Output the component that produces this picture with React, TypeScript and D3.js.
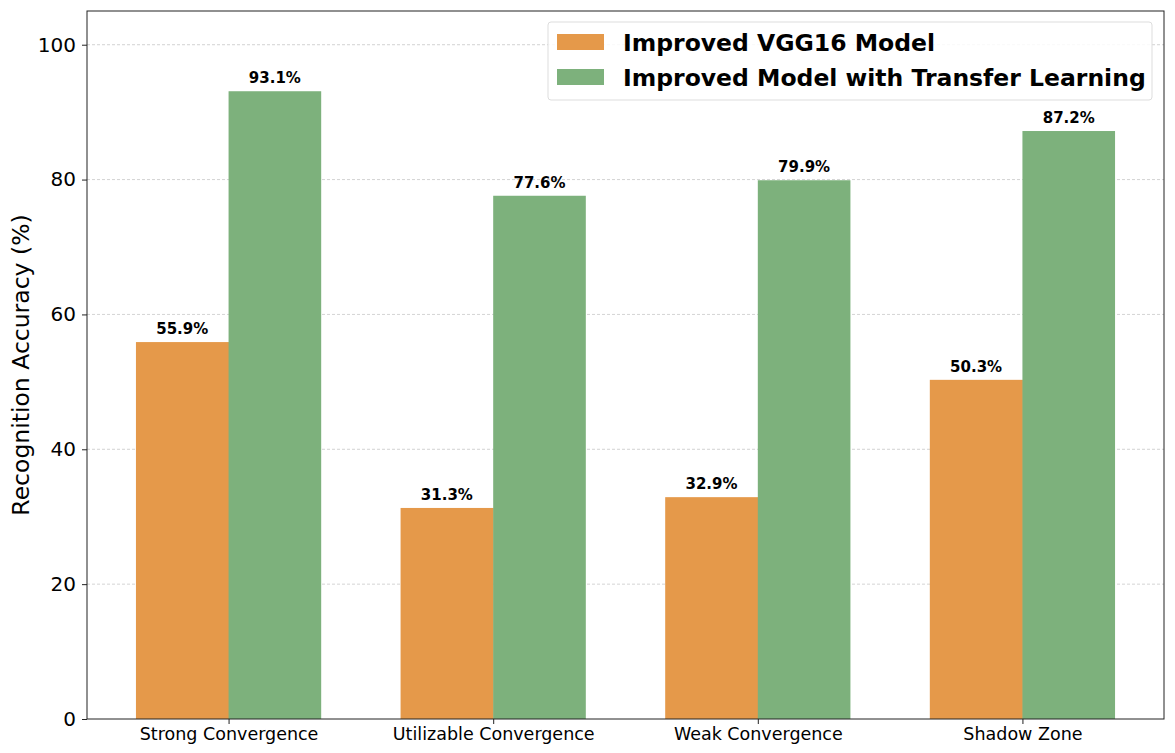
import { useEffect, useRef } from 'react'
import * as d3 from 'd3'

const categories = ['Strong Convergence', 'Utilizable Convergence', 'Weak Convergence', 'Shadow Zone']
const vggValues = [55.9, 31.3, 32.9, 50.3]
const transferValues = [93.1, 77.6, 79.9, 87.2]
const seriesNames = ['Improved VGG16 Model', 'Improved Model with Transfer Learning']
const seriesColors = ['#e5994a', '#7db17c']
const yTicks = [0, 20, 40, 60, 80, 100]

export default function App() {
  const svgRef = useRef<SVGSVGElement>(null)

  useEffect(() => {
    if (!svgRef.current) return
    const width = 1175
    const height = 753
    const marginLeft = 87
    const marginRight = 11
    const marginTop = 11
    const marginBottom = 34
    const barW = 0.35
    const font = 'DejaVu Sans, sans-serif'

    const svg = d3.select(svgRef.current)
      .attr('width', width)
      .attr('height', height)
      .attr('viewBox', [0, 0, width, height].join(' '))
    svg.selectAll('*').remove()

    const x = d3.scaleLinear().domain([-0.535, 3.535]).range([marginLeft, width - marginRight])
    const y = d3.scaleLinear().domain([0, 105]).range([height - marginBottom, marginTop])

    // grid
    svg.append('g')
      .selectAll('line')
      .data(yTicks.filter(d => d > 0))
      .join('line')
      .attr('x1', marginLeft)
      .attr('x2', width - marginRight)
      .attr('y1', d => y(d))
      .attr('y2', d => y(d))
      .attr('stroke', '#c8c8c8')
      .attr('stroke-width', 0.8)
      .attr('stroke-dasharray', '3,2')

    const series = [vggValues, transferValues]
    series.forEach((vals, s) => {
      const off = s === 0 ? -barW / 2 : barW / 2
      const g = svg.append('g')
      g.selectAll('rect')
        .data(vals)
        .join('rect')
        .attr('x', (_, i) => x(i + off - barW / 2))
        .attr('width', x(barW) - x(0) + (s === 0 ? 0.5 : 0))
        .attr('y', d => y(d))
        .attr('height', d => y(0) - y(d))
        .attr('fill', seriesColors[s])
      g.selectAll('text')
        .data(vals)
        .join('text')
        .attr('x', (_, i) => x(i + off))
        .attr('y', d => y(d) - 8)
        .attr('text-anchor', 'middle')
        .style('font', `bold 15px ${font}`)
        .attr('fill', '#000')
        .text(d => `${d.toFixed(1)}%`)
    })

    // frame
    svg.append('rect')
      .attr('x', marginLeft)
      .attr('y', marginTop)
      .attr('width', width - marginRight - marginLeft)
      .attr('height', height - marginBottom - marginTop)
      .attr('fill', 'none')
      .attr('stroke', '#222')
      .attr('stroke-width', 1)

    // y axis
    const yAxis = svg.append('g')
      .attr('transform', `translate(${marginLeft},0)`)
      .call(d3.axisLeft(y).tickValues(yTicks).tickSize(5).tickPadding(6))
    yAxis.select('.domain').remove()
    yAxis.selectAll('.tick line').attr('stroke', '#222')
    yAxis.selectAll('.tick text').style('font', `20px ${font}`).attr('fill', '#000')

    // x axis
    const xAxis = svg.append('g')
      .attr('transform', `translate(0,${height - marginBottom})`)
      .call(d3.axisBottom(x).tickValues(d3.range(categories.length)).tickFormat((_, i) => categories[i]).tickSize(5).tickPadding(4))
    xAxis.select('.domain').remove()
    xAxis.selectAll('.tick line').attr('stroke', '#222')
    xAxis.selectAll('.tick text').style('font', `17.5px ${font}`).attr('fill', '#000')

    svg.append('text')
      .attr('transform', `translate(29,${(marginTop + height - marginBottom) / 2}) rotate(-90)`)
      .attr('text-anchor', 'middle')
      .style('font', `23.5px ${font}`)
      .text('Recognition Accuracy (%)')

    // legend
    const lg = svg.append('g').attr('transform', 'translate(548,22)')
    lg.append('rect')
      .attr('width', 604)
      .attr('height', 78)
      .attr('rx', 3)
      .attr('fill', 'rgba(255,255,255,0.85)')
      .attr('stroke', '#dddddd')
    seriesNames.forEach((name, i) => {
      lg.append('rect')
        .attr('x', 9)
        .attr('y', 12 + i * 35)
        .attr('width', 47)
        .attr('height', 16)
        .attr('fill', seriesColors[i])
      lg.append('text')
        .attr('x', 75)
        .attr('y', 29 + i * 35)
        .style('font', `bold 23.5px ${font}`)
        .text(name)
    })
  }, [])

  return <svg ref={svgRef} style={{ display: 'block', position: 'absolute', left: 0, top: 0 }} />
}
